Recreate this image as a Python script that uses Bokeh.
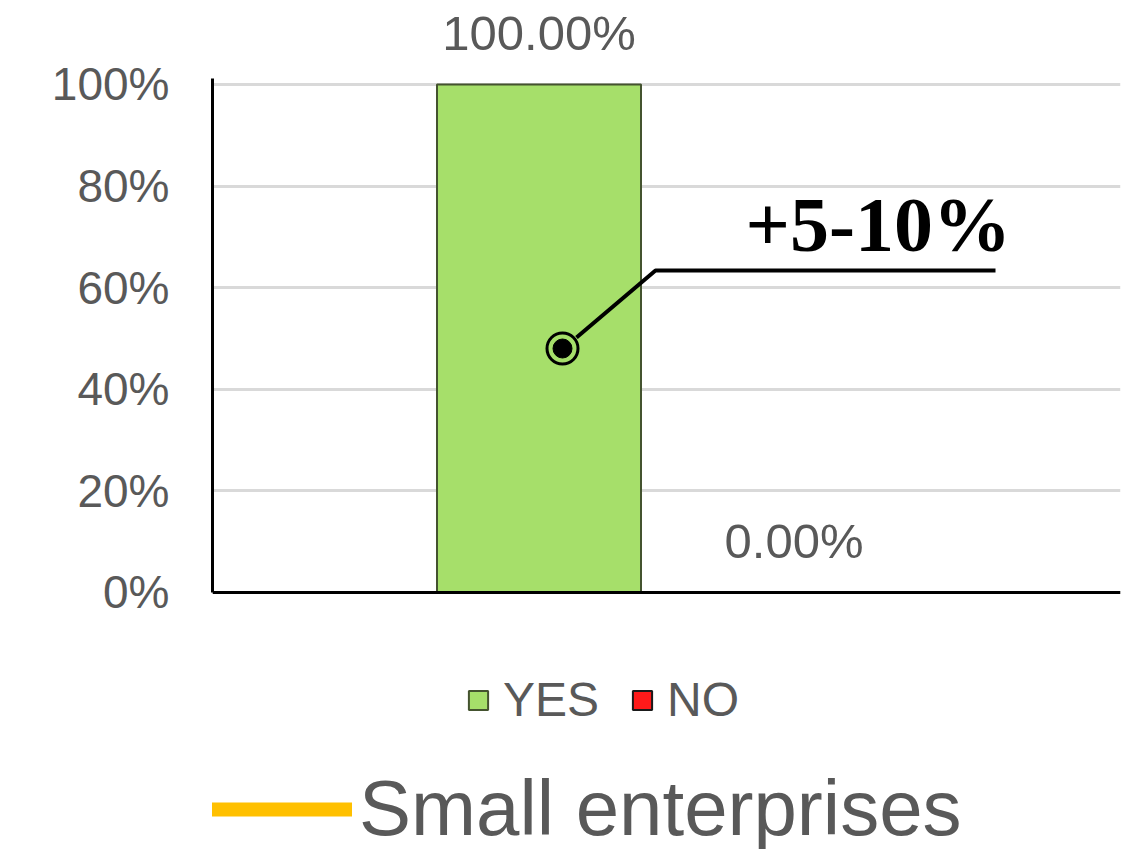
from bokeh.plotting import figure
from bokeh.models import (FactorRange, Range1d, FixedTicker, NumeralTickFormatter,
                          Span, Legend, LegendItem, ColumnDataSource)
from bokeh.core.properties import value
from bokeh.embed import file_html
from bokeh.resources import INLINE

# ---- data ----
series = ["YES", "NO"]
shares = [1.0, 0.0]
share_labels = ["100.00%", "0.00%"]
series_colors = ["#A6DF6A", "#FF1A1A"]
series_outlines = ["#44532F", "#1A1A1A"]
y_ticks = [0.0, 0.2, 0.4, 0.6, 0.8, 1.0]
callout_text = ["+5-10%"]
line_series_label = "Small enterprises"

# callout decoration, in canvas pixels
callout_px_x = [576, 655, 995]
callout_px_y = [337, 270, 270]
callout_dot_px = (562, 348)
callout_text_px = (745, 224)

GRAY = "#595959"
W, H = 1140, 849
PAD = 0.7804
FRAME_L, FRAME_R = 212, 1120
unit_px = (FRAME_R - FRAME_L) / (len(series) + 2 * PAD)
yes_center_px = FRAME_L + (PAD + 0.5) * unit_px


def cx(px):
    return (series[0], (px - yes_center_px) / unit_px)


p = figure(width=W, height=H, output_backend="svg", toolbar_location=None, title=None,
           x_range=FactorRange(factors=series, range_padding=PAD, factor_padding=0.0),
           y_range=Range1d(-0.50591, 1.16535),
           min_border_left=FRAME_L, min_border_right=W - FRAME_R,
           min_border_top=0, min_border_bottom=0)
p.outline_line_color = None
p.extra_y_ranges = {"px": Range1d(H, 0)}

p.xaxis.visible = False
p.xgrid.visible = False

ax = p.yaxis[0]
ax.ticker = FixedTicker(ticks=y_ticks)
ax.formatter = NumeralTickFormatter(format="0%")
ax.bounds = (0, 1.012)
ax.axis_line_color = "black"
ax.axis_line_width = 3
ax.major_tick_line_color = None
ax.minor_tick_line_color = None
ax.major_label_text_font = "Liberation Sans"
ax.major_label_text_font_size = "46px"
ax.major_label_text_color = GRAY
ax.major_label_standoff = 37

p.ygrid.ticker = FixedTicker(ticks=y_ticks)
p.ygrid.grid_line_color = "#D9D9D9"
p.ygrid.grid_line_width = 3

src = ColumnDataSource(dict(series=series, share=shares, color=series_colors,
                            outline=series_outlines, label=share_labels))
bars = p.vbar(x="series", top="share", bottom=0, width=0.8, fill_color="color",
              line_color="outline", line_width=2, source=src)
p.text(x="series", y="share", text="label", source=src, text_align="center",
       text_baseline="alphabetic", y_offset=-51, text_font=value("Liberation Sans"),
       text_font_size="49px", text_color=GRAY)

p.add_layout(Span(location=0, dimension="width", line_color="black", line_width=3))

# callout
p.line(x=[cx(v) for v in callout_px_x], y=callout_px_y, y_range_name="px",
       line_color="black", line_width=4)
p.scatter(x=[cx(callout_dot_px[0])], y=[callout_dot_px[1]], y_range_name="px",
          size=31, fill_color=None, line_color="black", line_width=3)
p.scatter(x=[cx(callout_dot_px[0])], y=[callout_dot_px[1]], y_range_name="px",
          size=19, fill_color="black", line_color="black")
p.text(x=[cx(callout_text_px[0])], y=[callout_text_px[1]], text=callout_text, y_range_name="px",
       text_font=value("Liberation Serif"), text_font_style="bold", text_font_size="78px",
       text_color="black", text_baseline="alphabetic")

leg1 = Legend(items=[LegendItem(label=series[0], renderers=[bars], index=0),
                     LegendItem(label=series[1], renderers=[bars], index=1)],
              orientation="horizontal", location=(254, 122),
              glyph_width=24, glyph_height=24, label_standoff=13, spacing=31,
              label_text_font="Liberation Sans", label_text_font_size="48px",
              label_text_color=GRAY, border_line_color=None, background_fill_alpha=0,
              padding=0, margin=0)
p.add_layout(leg1)

nan = float("nan")
yl = p.line(x=[series[0], series[0]], y=[nan, nan], line_color="#FFC000",
            line_width=14, line_cap="round")
leg2 = Legend(items=[LegendItem(label=line_series_label, renderers=[yl])],
              location=(-2, -5), glyph_width=142, glyph_height=40, label_standoff=7,
              label_text_font="Liberation Sans", label_text_font_size="78px",
              label_text_color=GRAY, border_line_color=None, background_fill_alpha=0,
              padding=0, margin=0)
p.add_layout(leg2)

open("out.html", "w").write(file_html(p, INLINE))
